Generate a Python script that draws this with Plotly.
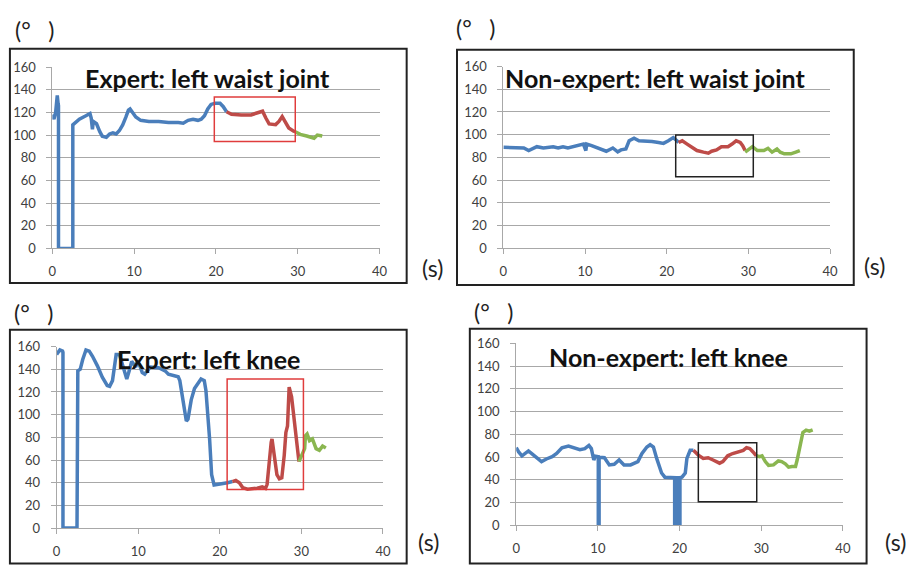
import plotly.graph_objects as go

W, H = 918, 573

# ---------------- DATA ----------------
# Panel 1: Expert, left waist joint
p1_blue_t = [0, 0.2, 0.4, 0.6, 0.7, 0.75, 0.75, 2.5, 2.5, 2.9, 3.3, 4.1, 4.4, 4.6, 4.75, 4.9, 5.0, 5.4, 5.8, 6.1, 6.6, 7.0, 7.4, 7.8, 8.2, 8.6, 9.0, 9.3, 9.5, 9.8, 10.2, 10.8, 11.8, 13.0, 14.2, 15.4, 16.0, 16.6, 17.2, 17.8, 18.2, 18.6, 19.0, 19.4, 19.9, 20.5, 20.9, 21.3]
p1_blue_v = [118, 114, 120, 135, 128, 126, 0, 0, 109, 112, 114, 117, 118, 119, 115, 105, 112, 110, 103, 99, 98, 101, 102, 101, 104, 109, 116, 122, 123, 120, 116, 113, 112, 112, 111, 111, 110.5, 113, 114, 113, 114, 117, 123, 127, 128, 128, 125, 120.6]
p1_red_t = [21.3, 21.9, 23.1, 24.3, 24.9, 25.5, 25.7, 26.1, 26.5, 27.3, 27.7, 28.1, 28.5, 28.9, 29.5, 29.7]
p1_red_v = [120.6, 118.3, 117.8, 117.8, 119.2, 120.6, 121, 115, 109.8, 109.2, 112, 116.3, 110.6, 106.3, 103.5, 103]
p1_green_t = [29.7, 30.3, 31.1, 31.7, 32.0, 32.4, 33.0]
p1_green_v = [103, 100.6, 99.2, 98.3, 97.2, 100, 99.2]
p1_box = [19.8, 29.7, 94.4, 133.5]  # x0, x1, y0, y1

# Panel 2: Non-expert, left waist joint
p2_blue_t = [0, 1.3, 2.5, 3.1, 3.7, 4.1, 4.9, 6.1, 6.7, 7.3, 7.9, 8.5, 9.2, 9.8, 10.1, 10.2, 10.8, 11.6, 12.6, 13.4, 14.0, 14.4, 15.0, 15.4, 16.0, 16.6, 17.4, 18.2, 19.0, 19.6, 20.2, 20.8, 21.25, 21.45]
p2_blue_v = [88.9, 88.9, 88.3, 86, 88.3, 89.4, 88.3, 89.4, 88.3, 89.4, 88.3, 89.4, 91, 91.7, 86, 91.7, 90.3, 88.3, 85.4, 88.3, 84.9, 86.6, 87.4, 94.6, 96.9, 94.6, 94.6, 94, 93.1, 92.3, 94.6, 97.4, 94.6, 93.1]
p2_red_t = [21.45, 21.9, 22.5, 23.1, 23.7, 24.5, 25.1, 25.5, 26.1, 26.7, 27.5, 28.0, 28.5, 29.0, 29.3, 29.6]
p2_red_v = [93.1, 94.6, 91.7, 88.9, 86, 84.6, 83.7, 85.4, 86.6, 89.4, 89.4, 91.7, 94.6, 93.1, 90.3, 86]
p2_green_t = [29.6, 30.1, 30.5, 31.1, 31.9, 32.4, 32.9, 33.5, 33.9, 34.4, 35.2, 35.8, 36.3]
p2_green_v = [84.6, 87.4, 89.4, 86, 86, 88, 84.6, 87.4, 84.6, 83.1, 83.1, 84.6, 86]
p2_box = [21.1, 30.6, 62.9, 99.7]

# Panel 3: Expert, left knee
p3_blue_t = [0, 0.12, 0.4, 0.73, 0.78, 0.78, 2.5, 2.6, 2.9, 3.2, 3.6, 4.0, 4.4, 5.0, 5.6, 6.2, 6.5, 6.85, 7.1, 7.3, 7.7, 8.1, 8.6, 8.9, 9.2, 9.5, 9.7, 9.9, 10.2, 10.5, 10.8, 11.1, 11.5, 12.5, 13.3, 13.7, 14.3, 14.9, 15.1, 15.5, 15.9, 16.1, 16.5, 16.9, 17.5, 17.7, 18.1, 18.3, 18.75, 19.0, 19.3, 20.1, 20.95, 21.55]
p3_blue_v = [153, 154, 157, 156, 155, 0, 0, 138.6, 140, 148.6, 157, 156, 151.4, 143, 133, 125.7, 125, 130, 144, 153, 153, 144, 131.4, 138.6, 147, 144, 142, 147, 143, 137, 135.7, 138.6, 142, 141.4, 138.6, 135.7, 134.3, 133.4, 130, 113, 94.3, 96, 113, 123, 128.6, 131.4, 130, 121.4, 78.6, 47, 38, 38.6, 40, 41]
p3_red_t = [21.55, 21.96, 22.4, 22.8, 23.4, 24.6, 25.2, 25.6, 25.8, 26.0, 26.3, 26.4, 26.7, 27.0, 27.3, 27.6, 27.9, 28.1, 28.3, 28.4, 28.5, 28.8, 29.2, 29.5, 29.7]
p3_red_v = [41, 42, 40, 35.7, 34.3, 35.1, 36.3, 35, 38.6, 55.7, 75.7, 78.6, 64.3, 47, 43.4, 44.3, 64.3, 84.3, 90, 121.4, 124.3, 115.7, 90, 67, 58.6]
p3_green_t = [29.7, 30.2, 30.4, 30.5, 30.7, 31.0, 31.35, 31.8, 32.2, 32.6, 33.0]
p3_green_v = [58.6, 65.7, 70, 81.4, 82.9, 77, 78.6, 70, 68.6, 72.3, 70.6]
p3_box = [20.9, 30.25, 34.0, 131.4]

# Panel 4: Non-expert, left knee
p4_blue_t = [0, 0.3, 0.7, 1.1, 1.5, 1.9, 2.5, 3.1, 3.7, 4.4, 4.95, 5.6, 6.4, 7.2, 7.8, 8.4, 8.9, 9.2, 9.5, 9.7, 9.9, 10.05, 10.05, 10.15, 10.15, 10.8, 11.4, 12.0, 12.6, 13.2, 14.0, 14.6, 14.9, 15.4, 16.0, 16.4, 16.8, 17.2, 17.8, 18.2, 19.0, 19.4, 19.4, 19.55, 19.55, 19.7, 19.7, 19.85, 19.85, 20.0, 20.0, 20.05, 20.05, 20.3, 20.7, 20.9, 21.3, 21.7]
p4_blue_v = [68.3, 64.6, 61.2, 63.2, 65.5, 63.2, 59.5, 56.1, 58.4, 60.4, 63.2, 68.3, 69.8, 68, 66.6, 67.5, 70.3, 67.5, 57.5, 60.9, 60.4, 60.4, 0, 0, 60, 59.5, 53.2, 53.8, 57.5, 53.2, 53.2, 55.5, 56.1, 63.2, 68.9, 70.9, 68.9, 58.9, 46.1, 42.4, 41.9, 41.9, 0, 0, 41.9, 41.9, 0, 0, 41.9, 41.9, 0, 0, 42, 42.4, 46.1, 58.9, 66, 66]
p4_red_t = [21.7, 22.3, 22.9, 23.5, 24.1, 24.9, 25.3, 25.9, 26.5, 27.3, 27.8, 28.2, 28.6, 29.0, 29.4]
p4_red_v = [66, 61.8, 58.9, 59.5, 57.5, 54.7, 56.1, 61.2, 63.2, 64.6, 66, 68.3, 67.5, 64.6, 61.2]
p4_green_t = [29.4, 29.8, 30.1, 30.5, 30.9, 31.5, 32.1, 32.5, 32.95, 33.35, 33.75, 34.2, 34.4, 34.8, 35.1, 35.5, 35.9, 36.3]
p4_green_v = [61.2, 60.4, 61.2, 56.1, 52.7, 53.2, 56.7, 56.1, 54.1, 51.2, 51.8, 51.8, 57.5, 73.2, 81.7, 83.7, 82.9, 84]
p4_box = [22.3, 29.45, 20.8, 72.6]

titles = ["Expert: left waist joint", "Non-expert: left waist joint",
          "Expert: left knee", "Non-expert: left knee"]
x_ticks = [0, 10, 20, 30, 40]
y_ticks = [0, 20, 40, 60, 80, 100, 120, 140, 160]
unit_y = "(°   )"
unit_x = "(s)"

# ---------------- LAYOUT GEOMETRY (pixels) ----------------
panels = [
    dict(plot=(49, 380.5, 60.7, 247.4), frame=(6, 408, 42, 283), box_color="#e03c3c",
         title_xy=(206, 72), degy=(31, 23), sxy=(434, 267)),
    dict(plot=(506, 837, 60.3, 247), frame=(459, 861, 43, 285), box_color="#222222",
         title_xy=(660, 72), degy=(478, 21), sxy=(882, 265)),
    dict(plot=(53.3, 384, 348.3, 535), frame=(6, 408, 331, 571.5), box_color="#e03c3c",
         title_xy=(207, 361), degy=(30, 314), sxy=(430, 549)),
    dict(plot=(519, 850, 345, 532.3), frame=(472, 874, 330, 571.5), box_color="#222222",
         title_xy=(673, 359), degy=(496, 313), sxy=(903, 549)),
]

series = [
    (p1_blue_t, p1_blue_v, p1_red_t, p1_red_v, p1_green_t, p1_green_v, p1_box),
    (p2_blue_t, p2_blue_v, p2_red_t, p2_red_v, p2_green_t, p2_green_v, p2_box),
    (p3_blue_t, p3_blue_v, p3_red_t, p3_red_v, p3_green_t, p3_green_v, p3_box),
    (p4_blue_t, p4_blue_v, p4_red_t, p4_red_v, p4_green_t, p4_green_v, p4_box),
]

BLUE = "#4a7ebb"
RED = "#be4b48"
GREEN = "#8ab650"
GRID = "#a8a8a8"
TICKC = "#404040"
FONT = "Lato"

def px_x(x):
    return x / W

def px_y(y):
    return 1 - y / H

fig = go.Figure()
layout = dict(width=W, height=H, autosize=False, margin=dict(l=0, r=0, t=0, b=0),
              paper_bgcolor="white", plot_bgcolor="white", showlegend=False)
shapes = []
annotations = []

for i, (p, s) in enumerate(zip(panels, series)):
    n = "" if i == 0 else str(i + 1)
    xa, ya = "x" + n, "y" + n
    bt, bv, rt, rv, gt, gv, box = s
    for tt, vv, col in ((bt, bv, BLUE), (rt, rv, RED), (gt, gv, GREEN)):
        fig.add_trace(go.Scatter(x=tt, y=vv, mode="lines", xaxis=xa, yaxis=ya,
                                 line=dict(color=col, width=3.5), hoverinfo="skip"))
    x0, x1, y0, y1 = p["plot"]
    layout["xaxis" + n] = dict(domain=[px_x(x0), px_x(x1)], range=[0, 40], anchor=ya,
                               tickvals=x_ticks, showgrid=False, zeroline=False,
                               showline=True, linecolor=GRID, linewidth=1,
                               ticks="outside", ticklen=5, tickcolor=GRID,
                               tickfont=dict(family=FONT, size=13, color=TICKC),
                               ticklabelstandoff=6, fixedrange=True)
    layout["yaxis" + n] = dict(domain=[px_y(y1), px_y(y0)], range=[0, 160], anchor=xa,
                               tickvals=y_ticks, showgrid=True, gridcolor=GRID, gridwidth=1,
                               zeroline=False, showline=True, linecolor=GRID, linewidth=1,
                               ticks="outside", ticklen=5, tickcolor=GRID,
                               tickfont=dict(family=FONT, size=13, color=TICKC),
                               ticklabelstandoff=8, fixedrange=True)
    # highlight box (data coordinates)
    shapes.append(dict(type="rect", xref=xa, yref=ya, x0=box[0], x1=box[1], y0=box[2], y1=box[3],
                       line=dict(color=p["box_color"], width=1.5), layer="above"))
    # panel frame
    fx0, fx1, fy0, fy1 = p["frame"]
    shapes.append(dict(type="rect", xref="paper", yref="paper",
                       x0=px_x(fx0), x1=px_x(fx1), y0=px_y(fy1), y1=px_y(fy0),
                       line=dict(color="#222222", width=2)))
    tx, ty = p["title_xy"]
    annotations.append(dict(text="<b>" + titles[i] + "</b>", x=px_x(tx), y=px_y(ty),
                            xref="paper", yref="paper", showarrow=False,
                            xanchor="center", yanchor="middle",
                            font=dict(family=FONT, size=25, color="#111111")))
    dx, dy = p["degy"]
    annotations.append(dict(text=unit_y, x=px_x(dx), y=px_y(dy), xref="paper", yref="paper",
                            showarrow=False, xanchor="center", yanchor="middle",
                            font=dict(family=FONT, size=23, color="#222222")))
    sx, sy = p["sxy"]
    annotations.append(dict(text=unit_x, x=px_x(sx), y=px_y(sy), xref="paper", yref="paper",
                            showarrow=False, xanchor="center", yanchor="middle",
                            font=dict(family=FONT, size=23, color="#222222")))

layout["shapes"] = shapes
layout["annotations"] = annotations
fig.update_layout(**layout)
fig.write_html("out.html")
